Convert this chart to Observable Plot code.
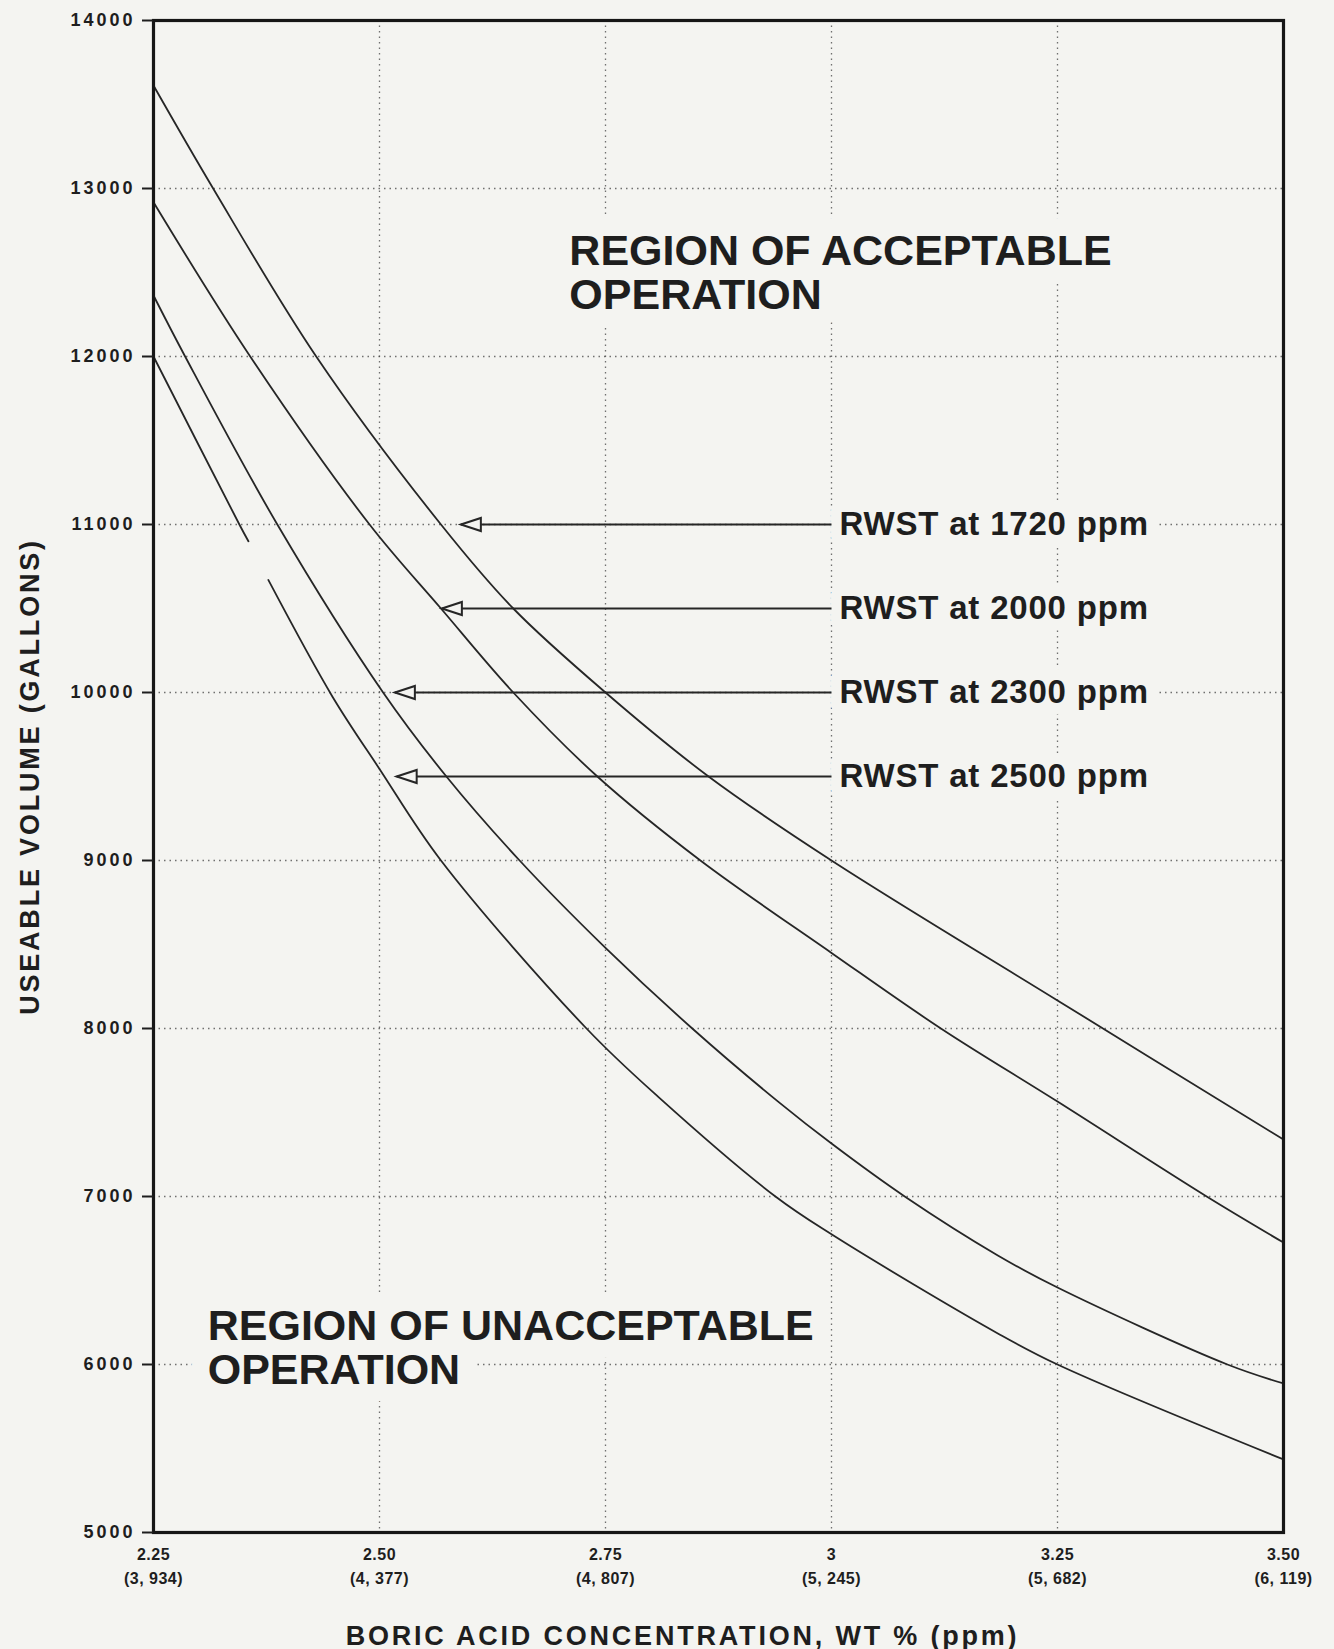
<!DOCTYPE html>
<html>
<head>
<meta charset="utf-8">
<script src="https://cdn.jsdelivr.net/npm/d3@7"></script>
<script src="https://cdn.jsdelivr.net/npm/@observablehq/plot@0.6"></script>
<style>
  html, body { margin: 0; padding: 0; background: #f4f4f1; }
  #chart svg { display: block; }
</style>
</head>
<body>
<div id="chart"></div>
<script>
// ---- Axis ticks and labels ----
const concTicks = [2.25, 2.5, 2.75, 3.0, 3.25, 3.5];
const wtLabels  = ["2.25", "2.50", "2.75", "3", "3.25", "3.50"];
const ppmLabels = ["(3, 934)", "(4, 377)", "(4, 807)", "(5, 245)", "(5, 682)", "(6, 119)"];
const volTicks  = [5000, 6000, 7000, 8000, 9000, 10000, 11000, 12000, 13000, 14000];
const gridConc  = [2.5, 2.75, 3.0, 3.25];
const gridVol   = [6000, 7000, 8000, 9000, 10000, 11000, 12000, 13000];

// ---- Curves (boric acid wt %, useable volume in gallons) ----
const seriesNames = ["RWST at 1720 ppm", "RWST at 2000 ppm", "RWST at 2300 ppm", "RWST at 2500 ppm"];

const conc1720 = [2.25, 2.316, 2.43, 2.568, 2.648, 2.75, 2.864, 3.0, 3.25, 3.5];
const vol1720  = [13613, 13000, 12000, 11000, 10500, 10000, 9500, 9000, 8167, 7339];

const conc2000 = [2.25, 2.357, 2.489, 2.568, 2.648, 2.741, 2.855, 3.0, 3.121, 3.25, 3.415, 3.5];
const vol2000  = [12918, 12000, 11000, 10500, 10000, 9500, 9000, 8450, 8000, 7565, 7000, 6726];

const conc2300 = [2.25, 2.285, 2.387, 2.504, 2.574, 2.655, 2.75, 2.846, 2.942, 3.0, 3.081, 3.184, 3.25, 3.438, 3.5];
const vol2300  = [12363, 12000, 11000, 10000, 9500, 9000, 8480, 8000, 7560, 7315, 7000, 6649, 6458, 6000, 5887];

// (the scanned 2500 ppm curve has a short break; NaN keeps it)
const conc2500 = [2.25, 2.345, 2.355, 2.366, 2.377, 2.448, 2.5, 2.568, 2.729, 2.809, 2.938, 3.0, 3.184, 3.25, 3.5];
const vol2500  = [12000, 11000, 10900, NaN, 10670, 9975, 9545, 9000, 8000, 7590, 7000, 6775, 6185, 6000, 5435];

// ---- Annotations (in data units) ----
const arrowVolumes = [11000, 10500, 10000, 9500];
const arrowTipConc = [2.59, 2.569, 2.517, 2.519];
const arrowTailConc = [3.0, 3.0, 3.0, 3.0];
const regionLabels = ["REGION OF ACCEPTABLE\nOPERATION", "REGION OF UNACCEPTABLE\nOPERATION"];
const regionConc = [2.71, 2.31];
const regionVol  = [12730, 6330];
const xTitle = "BORIC ACID CONCENTRATION, WT % (ppm)";
const yTitle = "USEABLE VOLUME (GALLONS)";

// ---- Build tables ----
const curveTable = [
  [conc1720, vol1720], [conc2000, vol2000], [conc2300, vol2300], [conc2500, vol2500]
].flatMap(([cs, vs], k) => cs.map((c, i) => ({series: seriesNames[k], c, v: vs[i]})));

const arrowTable = arrowVolumes.map((v, i) => ({
  label: seriesNames[i], v, tip: arrowTipConc[i], tail: arrowTailConc[i]
}));
const regionTable = regionLabels.map((t, i) => ({t, c: regionConc[i], v: regionVol[i]}));
const wtMap = new Map(concTicks.map((d, i) => [d, wtLabels[i]]));
const ppmMap = new Map(concTicks.map((d, i) => [d, ppmLabels[i]]));

const bg = "#f4f4f1";
const ink = "#1e1e1e";

// open arrowhead pointing left, tip at origin
const leftHead = {
  draw(ctx) {
    ctx.moveTo(0, 0);
    ctx.lineTo(20, -6.5);
    ctx.lineTo(20, 6.5);
    ctx.closePath();
  }
};

const regionOpts = {x: "c", y: "v", text: "t", textAnchor: "start", lineAnchor: "top", lineHeight: 1.02,
  fontSize: 43, fontWeight: "bold"};
const rwstOpts = {x: "tail", y: "v", text: "label", dx: 8, textAnchor: "start", lineAnchor: "middle",
  fontSize: 33, fontWeight: "bold"};

const chart = Plot.plot({
  width: 1334,
  height: 1649,
  marginLeft: 153,
  marginRight: 51,
  marginTop: 20,
  marginBottom: 117,
  style: {background: bg, fontFamily: "'Liberation Sans', Arial, Helvetica, sans-serif", color: ink},
  x: {domain: [2.25, 3.5], axis: null},
  y: {domain: [5000, 14000], axis: null},
  marks: [
    Plot.gridX(gridConc, {stroke: "#444", strokeOpacity: 0.75, strokeWidth: 1.3, strokeDasharray: "1.5,4"}),
    Plot.gridY(gridVol, {stroke: "#444", strokeOpacity: 0.75, strokeWidth: 1.3, strokeDasharray: "1.5,4"}),
    // knock-out halos behind the annotations (as in the original, the grid is interrupted there)
    Plot.text(regionTable, {...regionOpts, fill: bg, stroke: bg, strokeWidth: 36, strokeLinejoin: "round"}),
    Plot.text(arrowTable, {...rwstOpts, fill: bg, stroke: bg, strokeWidth: 22, strokeLinejoin: "round"}),
    Plot.text(regionTable, {...regionOpts, fill: ink}),
    Plot.text(arrowTable, {...rwstOpts, fill: ink}),
    Plot.line(curveTable, {x: "c", y: "v", z: "series", curve: "catmull-rom", stroke: "#262626", strokeWidth: 1.8}),
    Plot.link(arrowTable, {x1: "tip", x2: "tail", y1: "v", y2: "v", stroke: "#262626", strokeWidth: 2}),
    Plot.dot(arrowTable, {x: "tip", y: "v", symbol: leftHead, fill: bg, stroke: "#262626", strokeWidth: 2}),
    Plot.frame({stroke: "#161616", strokeWidth: 3.2}),
    Plot.axisY(volTicks, {
      anchor: "left", tickSize: 11, tickPadding: 7, strokeWidth: 2, fontSize: 18, fontWeight: "bold",
      tickFormat: d => String(d), label: null
    }),
    Plot.axisX(concTicks, {
      anchor: "bottom", tickSize: 0, tickPadding: 16, fontSize: 16, fontWeight: "bold",
      tickFormat: d => wtMap.get(d), label: null
    }),
    Plot.axisX(concTicks, {
      anchor: "bottom", tickSize: 0, tickPadding: 40, fontSize: 16, fontWeight: "bold",
      tickFormat: d => ppmMap.get(d), label: null
    }),
    Plot.text([yTitle], {
      frameAnchor: "left", dx: -123, rotate: -90, textAnchor: "middle", lineAnchor: "middle",
      fontSize: 27, fontWeight: "bold", fill: ink
    }),
    Plot.text([xTitle], {
      frameAnchor: "bottom", dx: -36, dy: 112, textAnchor: "middle", lineAnchor: "bottom",
      fontSize: 27, fontWeight: "bold", fill: ink
    })
  ]
});

document.getElementById("chart").appendChild(chart);

// letter spacing to match the wide lettering of the scan
const svg = d3.select(chart);
svg.selectAll('g[aria-label="y-axis tick label"] text').style("letter-spacing", "3px");
svg.selectAll('g[aria-label="x-axis tick label"] text').style("letter-spacing", "0.5px");
svg.selectAll("text")
  .filter(function() { return this.textContent === xTitle || this.textContent === yTitle; })
  .style("letter-spacing", "2.8px");
svg.selectAll("text")
  .filter(function() { return this.textContent.startsWith("RWST"); })
  .style("letter-spacing", "0.8px");
</script>
</body>
</html>
